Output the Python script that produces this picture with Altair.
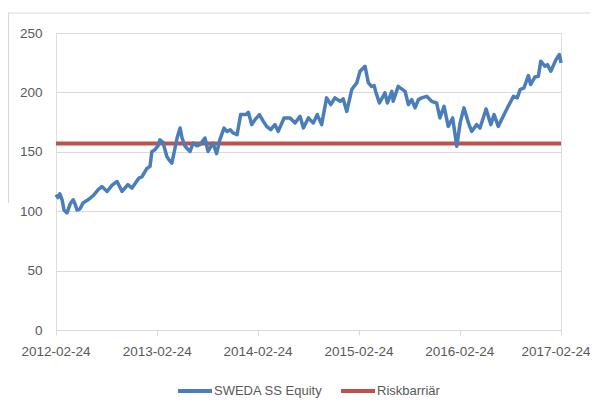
import altair as alt
import pandas as pd

# ---- data ----
start_date = "2012-02-24"
# days since 2012-02-24
day_offsets = [0, 7, 14, 22, 29, 40, 51, 62, 69, 76, 87, 98, 116, 134, 152, 166, 185, 203,
               221, 239, 260, 275, 300, 311, 329, 340, 347, 358, 369, 376, 387, 401, 409,
               419, 427, 438, 449, 456, 467, 478, 485, 496, 510, 521, 539, 550, 568, 581,
               593, 608, 619, 630, 640, 655, 668, 687, 696, 708, 720, 736, 749, 762, 777,
               792, 804, 825, 847, 865, 883, 895, 913, 931, 945, 961, 979, 994, 1009, 1028,
               1039, 1052, 1070, 1088, 1100, 1118, 1130, 1142, 1151, 1158, 1170, 1190, 1199,
               1215, 1220, 1238, 1263, 1275, 1287, 1299, 1311, 1323, 1341, 1359, 1377, 1389,
               1404, 1419, 1435, 1450, 1462, 1476, 1492, 1504, 1522, 1534, 1556, 1573, 1585,
               1600, 1618, 1636, 1655, 1669, 1679, 1693, 1709, 1717, 1733, 1745, 1754, 1769,
               1778, 1790, 1809, 1821, 1827]
equity_values = [113.8, 111.5, 114.7, 109.6, 101.0, 98.6, 106.0, 109.6, 106.0, 101.0, 102.0,
                 107.0, 109.6, 113.0, 118.0, 120.8, 116.6, 122.0, 125.0, 116.6, 122.3, 119.5,
                 127.9, 129.0, 136.0, 137.7, 150.3, 151.8, 155.0, 160.0, 158.0, 146.0, 143.3,
                 140.5, 149.0, 161.6, 170.0, 161.6, 154.6, 152.0, 150.3, 157.4, 155.0, 156.0,
                 161.6, 150.3, 157.4, 148.4, 160.2, 170.0, 167.0, 168.6, 165.9, 164.4, 181.3,
                 181.3, 183.2, 172.9, 177.0, 181.3, 176.0, 171.4, 168.6, 172.9, 167.2, 178.5,
                 178.5, 174.3, 179.9, 170.0, 178.5, 174.3, 181.3, 172.9, 195.4, 189.7, 195.4,
                 192.5, 194.5, 184.0, 202.4, 208.0, 217.8, 222.0, 208.0, 205.0, 205.7, 199.6,
                 191.1, 199.6, 191.1, 200.9, 192.5, 205.1, 200.9, 189.7, 193.9, 186.9, 193.9,
                 195.4, 196.7, 192.5, 191.1, 178.5, 188.3, 171.4, 178.5, 154.6, 174.3, 187.0,
                 174.3, 167.2, 172.9, 170.0, 186.0, 172.9, 181.3, 171.4, 179.9, 188.3, 196.7,
                 195.4, 202.4, 203.8, 214.2, 206.6, 213.0, 213.6, 226.3, 222.0, 223.4, 217.8,
                 227.6, 231.9, 224.9]
barrier_dates = ["2012-02-24", "2017-02-24"]
barrier_value = 157
series_names = ["SWEDA SS Equity", "Riskbarriär"]
series_colors = ["#4A7EBB", "#C0504D"]
tick_labels = ["2012-02-24", "2013-02-24", "2014-02-24", "2015-02-24", "2016-02-24", "2017-02-24"]
y_ticks = [0, 50, 100, 150, 200, 250]

eq = pd.DataFrame({
    "date": pd.to_datetime(start_date) + pd.to_timedelta(day_offsets, unit="D"),
    "value": equity_values,
    "series": series_names[0],
})
bar = pd.DataFrame({
    "date": pd.to_datetime(barrier_dates),
    "value": [barrier_value] * len(barrier_dates),
    "series": series_names[1],
})
ticks_df = pd.DataFrame({"date": pd.to_datetime(tick_labels), "label": tick_labels})

FONT = "Liberation Sans"
GRAY = "#d9d9d9"
TXT = "#595959"

x_scale = alt.Scale(domain=[alt.DateTime(year=2012, month=2, date=24),
                            alt.DateTime(year=2017, month=2, date=24)])
x_enc = alt.X(
    "date:T",
    scale=x_scale,
    axis=alt.Axis(
        title=None,
        values=[alt.DateTime(year=int(t[:4]), month=2, date=24) for t in tick_labels],
        grid=False,
        labels=False,
        domainColor=GRAY,
        tickColor=GRAY,
        tickSize=5,
    ),
)
y_enc = alt.Y(
    "value:Q",
    scale=alt.Scale(domain=[0, 250], nice=False),
    axis=alt.Axis(
        title=None,
        values=y_ticks,
        grid=True,
        gridColor=GRAY,
        gridWidth=1,
        domain=False,
        ticks=False,
        labelPadding=14,
        labelColor=TXT,
        labelFontSize=13.5,
        labelFont=FONT,
    ),
)
color_enc = alt.Color(
    "series:N",
    scale=alt.Scale(domain=series_names, range=series_colors),
    legend=alt.Legend(
        title=None,
        orient="none",
        direction="horizontal",
        legendX=120,
        legendY=339,
        symbolType="stroke",
        symbolSize=1156,
        symbolStrokeWidth=4,
        labelOffset=0,
        columnPadding=10,
        labelColor=TXT,
        labelFontSize=13,
        labelFont=FONT,
    ),
)

barrier = alt.Chart(bar).mark_line(strokeWidth=4).encode(x=x_enc, y=y_enc, color=color_enc)
equity = alt.Chart(eq).mark_line(strokeWidth=3.5, strokeJoin="round").encode(
    x=x_enc, y=y_enc, color=color_enc)

label_style = dict(font=FONT, fontSize=13.5, color=TXT, baseline="middle", align="center")
xlabels_main = alt.Chart(ticks_df.iloc[:-1]).mark_text(**label_style).encode(
    x=alt.X("date:T", scale=x_scale), y=alt.value(319), text="label:N")
xlabels_last = alt.Chart(ticks_df.iloc[-1:]).mark_text(dx=-5, **label_style).encode(
    x=alt.X("date:T", scale=x_scale), y=alt.value(319), text="label:N")

top_border = alt.Chart(pd.DataFrame({"a": [0]})).mark_rule(color=GRAY, strokeWidth=1).encode(
    x=alt.value(-48), x2=alt.value(534), y=alt.value(-20))
left_border = alt.Chart(pd.DataFrame({"a": [0]})).mark_rule(color=GRAY, strokeWidth=1).encode(
    x=alt.value(-47.5), y=alt.value(-20), y2=alt.value(170))

chart = alt.layer(top_border, left_border, barrier, equity, xlabels_main, xlabels_last).properties(
    width=505,
    height=297,
    padding={"left": 48, "top": 25, "right": 29, "bottom": 71},
    autosize=alt.AutoSizeParams(type="none"),
).configure_view(stroke=None).configure(font=FONT)

chart.save("out.html", embed_options={"renderer": "svg", "actions": False})
